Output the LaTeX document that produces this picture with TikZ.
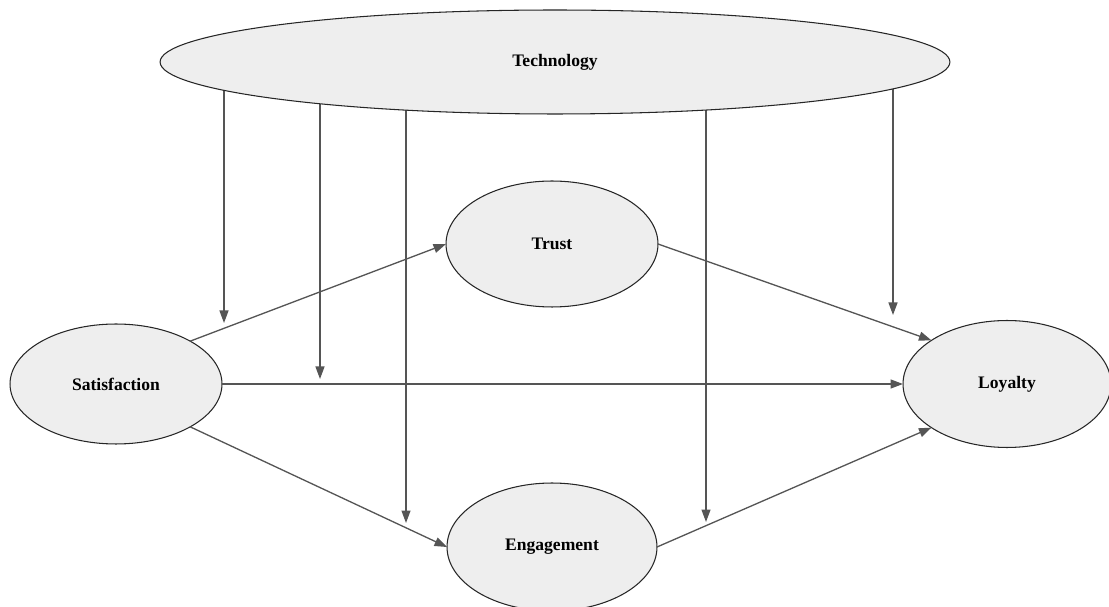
\documentclass[tikz,border=0pt]{standalone}
\usepackage{fontspec}
\setmainfont{Liberation Serif}
\usetikzlibrary{shapes.geometric,arrows.meta,backgrounds}
\definecolor{nodefill}{HTML}{EEEEEE}
\definecolor{edgegray}{HTML}{555555}
\tikzset{
  construct/.style={ellipse, draw=black!85, fill=nodefill, line width=0.6pt,
    inner sep=0pt, outer sep=0pt, font=\fontsize{10}{12}\selectfont\bfseries},
  link/.style={draw=edgegray, line width=0.75pt,
    -{Triangle[length=2.5mm,width=1.8mm]}},
}

\begin{document}
\begin{tikzpicture}[x=0.02cm,y=-0.02cm]
  \useasboundingbox (0,0) rectangle (1109,607);

  % Constructs
  \node[construct, minimum width=15.8cm, minimum height=2.08cm] (tech) at (555,62) {Technology};
  \node[construct, minimum width=4.24cm, minimum height=2.52cm] (trust) at (552,244) {Trust};
  \node[construct, minimum width=4.24cm, minimum height=2.4cm] (sat) at (116,384) {Satisfaction};
  \node[construct, minimum width=4.16cm, minimum height=2.54cm] (loyalty) at (1007,384) {Loyalty};
  \node[construct, minimum width=4.2cm, minimum height=2.56cm] (eng) at (552,547) {Engagement};

  % Ends of the moderating arrows
  \coordinate (m1) at (224,323);
  \coordinate (m2) at (320,379);
  \coordinate (m3) at (406,523);
  \coordinate (m4) at (706,522);
  \coordinate (m5) at (893,315);

  % Direct paths
  \draw[link] (sat.30) -- (trust.west);
  \draw[link] (sat.east) -- (loyalty.west);
  \draw[link] (sat.-30) -- (eng.west);
  \draw[link] (trust.east) -- (loyalty.150);
  \draw[link] (eng.east) -- (loyalty.210);

  % Moderating paths
  \begin{scope}[on background layer]
    \foreach \m in {m1,m2,m3,m4,m5}
      \draw[link] (\m |- tech.center) -- (\m);
  \end{scope}
\end{tikzpicture}
\end{document}
